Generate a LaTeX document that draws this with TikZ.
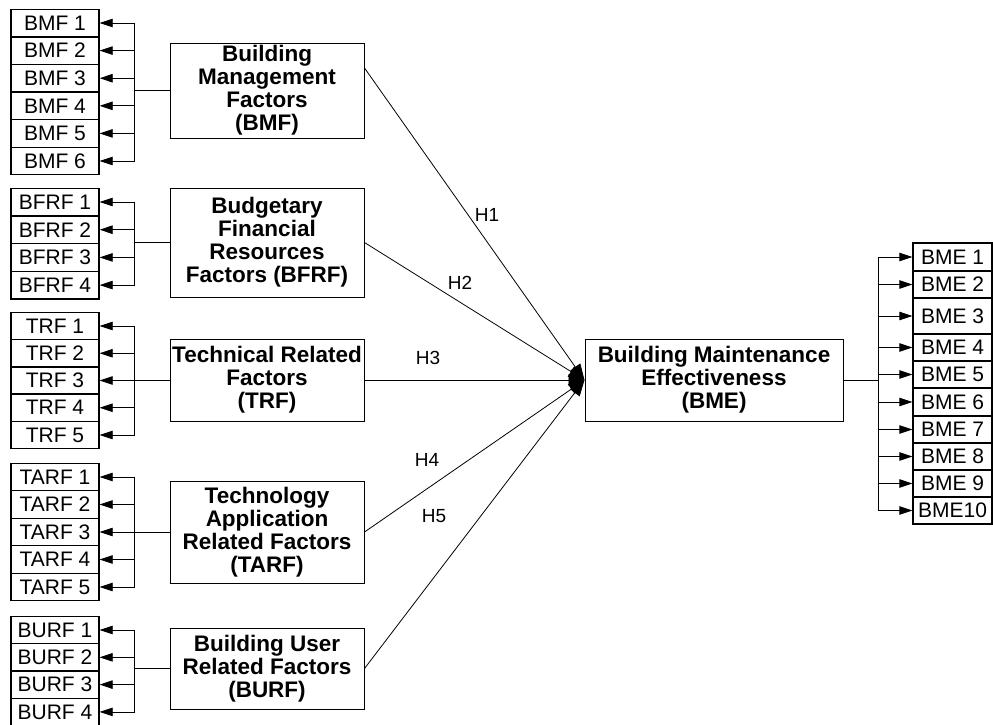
\documentclass[tikz,border=0pt]{standalone}
\usepackage{fontspec}
\setmainfont{Liberation Sans}
\usetikzlibrary{arrows.meta}
\begin{document}
\begin{tikzpicture}[x=1pt,y=-1pt,
  ind/.style={draw,line width=1.3pt,minimum width=88pt,minimum height=27.5pt,inner sep=0pt,font=\fontsize{21}{23}\selectfont},
  bmeind/.style={draw,line width=1.3pt,minimum width=79pt,inner sep=0pt,font=\fontsize{21}{23}\selectfont},
  cons/.style={draw,line width=1pt,inner sep=0pt,align=center,font=\fontsize{22.5}{23}\selectfont\bfseries},
  feed/.style={line width=0.8pt,-{Triangle[length=13pt,width=8.5pt]}},
  link/.style={line width=0.8pt},
  hyp/.style={line width=0.8pt,-{Triangle[length=16pt,width=12pt]}},
  hlab/.style={font=\fontsize{19}{21}\selectfont}]
\useasboundingbox (0,0) rectangle (993,724);

% constructs
\node[cons,minimum width=194pt,minimum height=95pt] (bmf) at (267,90.5) {Building\\Management\\Factors\\(BMF)};
\node[cons,minimum width=194pt,minimum height=109pt] (bfrf) at (267,242.5) {Budgetary\\Financial\\Resources\\Factors (BFRF)};
\node[cons,minimum width=194pt,minimum height=82pt] (trf) at (267,380) {Technical Related\\Factors\\(TRF)};
\node[cons,minimum width=194pt,minimum height=102pt] (tarf) at (267,532) {Technology\\Application\\Related Factors\\(TARF)};
\node[cons,minimum width=194pt,minimum height=81pt] (burf) at (267,668.5) {Building User\\Related Factors\\(BURF)};
\node[cons,minimum width=258pt,minimum height=82pt] (bme) at (714,380) {Building Maintenance\\Effectiveness\\(BME)};

% indicators of the exogenous constructs
\foreach \i in {1,...,6} \node[ind] (bmf\i) at (55,{23+27.6*(\i-1)}) {BMF \i};
\foreach \i in {1,...,4} \node[ind] (bfrf\i) at (55,{202+27.7*(\i-1)}) {BFRF \i};
\foreach \i in {1,...,5} \node[ind] (trf\i) at (55,{326+27.25*(\i-1)}) {TRF \i};
\foreach \i in {1,...,5} \node[ind] (tarf\i) at (55,{477+27.5*(\i-1)}) {TARF \i};
\foreach \i in {1,...,4} \node[ind] (burf\i) at (55,{630+27.3*(\i-1)}) {BURF \i};

% buses from constructs to their indicators
\foreach \c/\n in {bmf/6,bfrf/4,trf/5,tarf/5,burf/4} {
  \path (\c.west) -- ++(-35,0) coordinate (\c bus);
  \draw[link] (\c.west) -- (\c bus);
  \foreach \i in {1,...,\n} \draw[feed] (\c bus) |- (\c\i.east);
}

% indicators of the endogenous construct
\foreach \cy/\h [count=\i] in {257/28,284.5/27,316/36,347.5/27,374.5/27,402/28,429.5/27,456.5/27,483.5/27,510.5/27} {
  \ifnum\i<10
    \node[bmeind,minimum height=\h pt] (bme\i) at (952.5,\cy) {BME \i};
  \else
    \node[bmeind,minimum height=\h pt] (bme\i) at (952.5,\cy) {BME\i};
  \fi
}
\path (bme.east) -- ++(35,0) coordinate (bmebus);
\draw[link] (bme.east) -- (bmebus);
\foreach \i in {1,...,10} \draw[feed] (bmebus) |- (bme\i.west);

% hypothesised paths
\draw[hyp] ([yshift=22.5pt]bmf.east) -- (bme.west);
\draw[hyp] (bfrf.east) -- (bme.west);
\draw[hyp] (trf.east) -- (bme.west);
\draw[hyp] (tarf.east) -- (bme.west);
\draw[hyp] (burf.east) -- (bme.west);

\node[hlab] (h1) at (487,215) {H1};
\node[hlab] (h2) at (460,283) {H2};
\node[hlab] (h3) at (428,358) {H3};
\node[hlab] (h4) at (427,460) {H4};
\node[hlab] (h5) at (434,516) {H5};
\end{tikzpicture}
\end{document}
